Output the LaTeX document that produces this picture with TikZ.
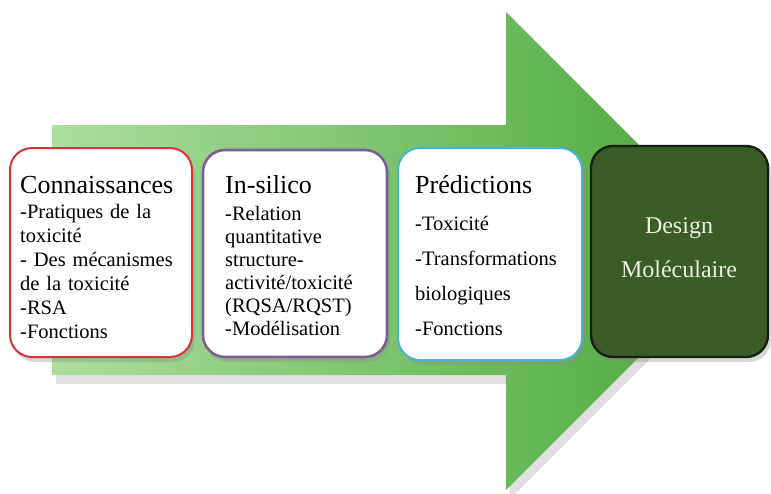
\documentclass[tikz,border=0pt]{standalone}
\usepackage{fontspec}
\setmainfont{Liberation Serif}
\newfontfamily\tnr{Liberation Serif}
\usetikzlibrary{shadows}
\definecolor{arrowlight}{RGB}{172,222,158}
\definecolor{arrowdark}{RGB}{72,166,56}
\definecolor{redb}{RGB}{214,52,56}
\definecolor{purpleb}{RGB}{124,94,150}
\definecolor{cyanb}{RGB}{70,180,214}
\definecolor{darkfill}{RGB}{58,92,38}
\definecolor{darkline}{RGB}{22,34,14}
\definecolor{palefont}{RGB}{236,242,220}
\tikzset{
  card/.style={rectangle, rounded corners=22pt, fill=white, line width=2pt, inner sep=0pt,
    drop shadow={shadow xshift=3pt, shadow yshift=-5pt, opacity=0.35, fill=black!45}},
  bodytext/.style={anchor=base west, align=left, text width=175pt, inner sep=0pt, text=black},
}
\newcommand{\ttl}[1]{{\fontsize{26}{26}\selectfont #1}}
\begin{document}
\begin{tikzpicture}[x=1pt,y=-1pt]
\useasboundingbox (0,0) rectangle (771,493);
% big arrow
\path[left color=arrowlight, right color=arrowdark,
  drop shadow={shadow xshift=4pt, shadow yshift=-9pt, opacity=0.25, fill=black!50}]
  (52,125) -- (506,125) -- (506,12) -- (745,251) -- (506,490) -- (506,375) -- (52,375) -- cycle;
% boxes
\node[card, draw=redb, minimum width=182pt, minimum height=209pt] (b1) at (101,252.5) {};
\node[card, draw=purpleb, line width=2.6pt, minimum width=184pt, minimum height=207pt] (b2) at (295,253.5) {};
\node[card, draw=cyanb, minimum width=184pt, minimum height=212pt] (b3) at (490,254) {};
\node[card, draw=darkline, fill=darkfill, line width=2.4pt, minimum width=177pt, minimum height=211pt] (b4) at (679.5,251.5) {};
% texts
\node[bodytext, font=\tnr\fontsize{20.5}{24}\selectfont] (t1) at (20,193)
  {\ttl{Connaissances}\\[1pt]-Pratiques de la\\toxicité\\- Des mécanismes\\de la toxicité\\-RSA\\-Fonctions};
\node[bodytext, font=\tnr\fontsize{20.5}{23}\selectfont] (t2) at (225,193)
  {\ttl{In-silico}\\[4pt]-Relation\\quantitative\\structure-\\activité/toxicité\\(RQSA/RQST)\\-Modélisation};
\node[bodytext, font=\tnr\fontsize{20.5}{35}\selectfont] (t3) at (415,193)
  {\ttl{Prédictions}\\[2pt]-Toxicité\\-Transformations\\biologiques\\-Fonctions};
\node[anchor=base, align=center, text width=170pt, inner sep=0pt, text=palefont,
  font=\tnr\fontsize{24}{44}\selectfont] (t4) at (679,233) {Design\\Moléculaire};
\end{tikzpicture}
\end{document}
